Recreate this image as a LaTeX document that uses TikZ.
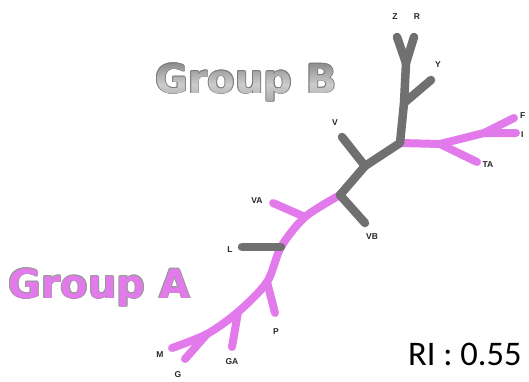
\documentclass[tikz,border=0pt]{standalone}
\usepackage{fontspec}
\setmainfont{Liberation Sans}
\newfontfamily\grpfont{DejaVu Sans}
\newfontfamily\rifont{Carlito}
\usetikzlibrary{calc}
\definecolor{treegray}{RGB}{112,112,112}
\definecolor{treepink}{RGB}{226,122,236}
\definecolor{outlinegray}{RGB}{125,125,125}
\newcommand{\grpsize}{\grpfont\bfseries\fontsize{40}{40}\selectfont}
\begin{document}
\begin{tikzpicture}[x=1pt,y=-1pt,
  gbranch/.style={draw=treegray,line width=8.5pt,line cap=round,line join=round},
  pbranch/.style={draw=treepink,line width=8pt,line cap=round,line join=round},
  lbl/.style={font=\bfseries\fontsize{8.5}{9}\selectfont,text=black!85,inner sep=0pt},
  grp/.style={font=\grpsize,inner sep=0pt,anchor=base west}]
\useasboundingbox (0,0) rectangle (529,381);
% coordinates
\coordinate (Ztip) at (397,37);
\coordinate (Rtip) at (414,37);
\coordinate (J1) at (406,63);
\coordinate (Yj) at (404,103);
\coordinate (Ytip) at (431,80);
\coordinate (Xj) at (400,143);
\coordinate (Vj) at (365,166);
\coordinate (Vtip) at (342,137);
\coordinate (VBj) at (340,195);
\coordinate (VBtip) at (365,223);
\coordinate (VAj) at (305,217);
\coordinate (VAtip) at (273,203);
\coordinate (Lj) at (281,247);
\coordinate (Ltip) at (242,247);
\coordinate (Pj) at (267,282);
\coordinate (Ptip) at (275,313);
\coordinate (GAj) at (238,312);
\coordinate (GAtip) at (232,347);
\coordinate (MGj) at (207,334);
\coordinate (Mtip) at (172,348);
\coordinate (Gtip) at (185,359);
\coordinate (TAj) at (440,144);
\coordinate (TAtip) at (477,162);
\coordinate (FIj) at (484,133);
\coordinate (Ftip) at (514,118);
\coordinate (Itip) at (516,133);
% pink branches
\draw[pbranch] plot[smooth,tension=0.5] coordinates {(VBj) (VAj) (Lj) (Pj) (GAj) (MGj) (Mtip)};
\draw[pbranch] (VAj) -- (VAtip);
\draw[pbranch] (Pj) -- (Ptip);
\draw[pbranch] (GAj) -- (GAtip);
\draw[pbranch] (MGj) -- (Gtip);
\draw[pbranch] (Xj) -- (TAj) -- (FIj) -- (Itip);
\draw[pbranch] (FIj) -- (Ftip);
\draw[pbranch] (TAj) -- (TAtip);
% gray branches
\draw[gbranch] (Ztip) -- (J1) -- (Rtip);
\draw[gbranch] (J1) -- (Yj) -- (Xj) -- (Vj) -- (VBj);
\draw[gbranch] (Yj) -- (Ytip);
\draw[gbranch] (Vj) -- (Vtip);
\draw[gbranch] (VBj) -- (VBtip);
\draw[gbranch] (Lj) -- (Ltip);
% leaf labels
\node[lbl] (lZ) at (395,17) {Z};
\node[lbl] (lR) at (417,17) {R};
\node[lbl] (lY) at (438,65) {Y};
\node[lbl,anchor=west] (lF) at (520,116) {F};
\node[lbl,anchor=west] (lI) at (521,135) {I};
\node[lbl] (lTA) at (488,165) {TA};
\node[lbl] (lV) at (335,123) {V};
\node[lbl] (lVA) at (257,201) {VA};
\node[lbl] (lVB) at (372,237) {VB};
\node[lbl] (lL) at (230,250) {L};
\node[lbl] (lP) at (276,332) {P};
\node[lbl] (lM) at (160,355) {M};
\node[lbl] (lGA) at (232,362) {GA};
\node[lbl] (lG) at (178,375) {G};
% Group B (outline, then banded metallic fill)
\foreach \dx/\dy in {-0.9/0,0.9/0,0/-0.9,0/0.9,-0.65/-0.65,0.65/0.65,-0.65/0.65,0.65/-0.65}
  \node[grp,text=outlinegray] at ($(155,93)+(\dx,\dy)$) {Group B};
\foreach \yy in {58,60,...,108}{
  \pgfmathsetmacro{\cc}{\yy<84 ? 50-(\yy-58)*30/26 : 20+(\yy-84)*18/24}
  \colorlet{bandcol}{black!\cc}
  \begin{scope}
    \clip (150,\yy) rectangle (340,\yy+2.3);
    \node[grp,text=bandcol] at (155,93) {Group B};
  \end{scope}
}
\node[grp,text opacity=0] (gB) at (155,93) {Group B};
% Group A
\foreach \dx/\dy in {-0.9/0,0.9/0,0/-0.9,0/0.9,-0.65/-0.65,0.65/0.65,-0.65/0.65,0.65/-0.65}
  \node[grp,text=black!40] at ($(8,298)+(\dx,\dy)$) {Group A};
\node[grp,text=treepink] (gA) at (8,298) {Group A};
% RI
\node[font=\rifont\fontsize{34.5}{35}\selectfont,inner sep=0pt,anchor=base west] (ri) at (408,365) {RI : 0.55};
\end{tikzpicture}
\end{document}
